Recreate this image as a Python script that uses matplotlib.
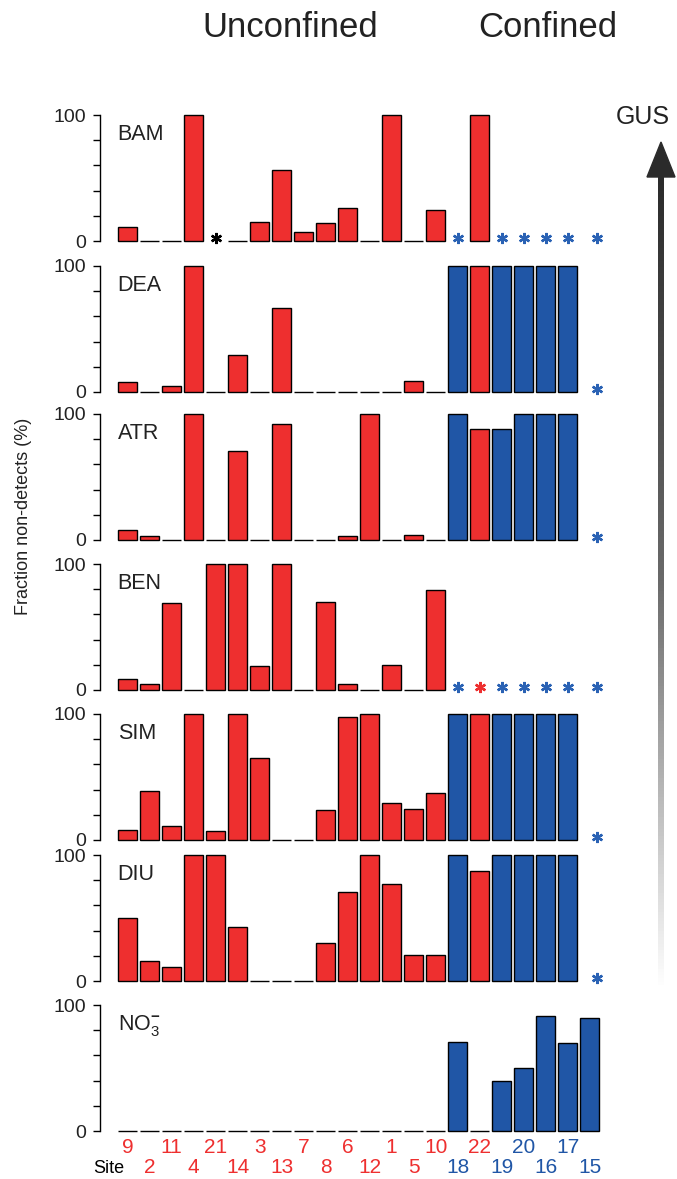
import numpy as np
import matplotlib
matplotlib.use('Agg')
import matplotlib.pyplot as plt
import matplotlib.transforms as mtransforms
from matplotlib.patches import Polygon
from matplotlib.colors import LinearSegmentedColormap

plt.rcParams['font.family'] = ['Liberation Sans', 'DejaVu Sans']
plt.rcParams['mathtext.fontset'] = 'custom'
plt.rcParams['mathtext.rm'] = 'Liberation Sans'
plt.rcParams['mathtext.it'] = 'Liberation Sans'
plt.rcParams['mathtext.bf'] = 'Liberation Sans:bold'

nan = np.nan

# sites in plotting order, U = unconfined, C = confined
sites = ['9', '2', '11', '4', '21', '14', '3', '13', '7', '8', '6',
         '12', '1', '5', '10', '18', '22', '19', '20', '16', '17', '15']
aquifer = ['U'] * 15 + ['C', 'U', 'C', 'C', 'C', 'C', 'C']

# fraction non-detects (%), nan = not analysed (asterisk)
bam = [11, 0, 0, 100, nan, 0, 15, 56, 7, 14, 26, 0, 100, 0, 25,
       nan, 100, nan, nan, nan, nan, nan]
dea = [8, 0, 5, 100, 0, 29, 0, 67, 0, 0, 0, 0, 0, 9, 0,
       100, 100, 100, 100, 100, 100, nan]
atr = [8, 3, 0, 100, 0, 71, 0, 92, 0, 0, 3, 100, 0, 4, 0,
       100, 88, 88, 100, 100, 100, nan]
ben = [9, 5, 69, 0, 100, 100, 19, 100, 0, 70, 5, 0, 20, 0, 79,
       nan, nan, nan, nan, nan, nan, nan]
sim = [8, 39, 11, 100, 7, 100, 65, 0, 0, 24, 98, 100, 29, 25, 37,
       100, 100, 100, 100, 100, 100, nan]
diu = [50, 16, 11, 100, 100, 43, 0, 0, 0, 30, 71, 100, 77, 21, 21,
       100, 87, 100, 100, 100, 100, nan]
no3 = [0, 0, 0, 0, 0, 0, 0, 0, 0, 0, 0, 0, 0, 0, 0,
       71, 0, 40, 50, 91, 70, 90]

panel_names = ['BAM', 'DEA', 'ATR', 'BEN', 'SIM', 'DIU', 'NO$_3^{\\mathbf{-}}$']
panel_values = [bam, dea, atr, ben, sim, diu, no3]
black_stars = [('BAM', '21')]

RED = '#ee2f2f'
BLUE = '#2056a6'
STAR_BLUE = '#2a62b4'
site_colors = [RED if a == 'U' else BLUE for a in aquifer]

W, H = 677, 1179
fig = plt.figure(figsize=(W / 100, H / 100), dpi=100)

def px_axes(left, top, right, bottom):
    return fig.add_axes([left / W, 1 - bottom / H, (right - left) / W, (bottom - top) / H])

tops = [115, 266, 414, 564, 714, 855, 1005]
x = np.arange(len(sites))

for i, (name, vals) in enumerate(zip(panel_names, panel_values)):
    ax = px_axes(100, tops[i], 603, tops[i] + 126)
    vals = np.array(vals, dtype=float)
    ok = ~np.isnan(vals)
    ax.bar(x[ok], vals[ok], width=0.85, color=np.array(site_colors)[ok],
           edgecolor='black', linewidth=1.0, clip_on=False, zorder=3)
    for k in np.where(~ok)[0]:
        c = RED if aquifer[k] == 'U' else STAR_BLUE
        if (name, sites[k]) in black_stars:
            c = 'black'
        xs = x[k] + (0.35 if k == len(sites) - 1 else 0)
        ax.plot(xs, 2, marker=(6, 2, 0), ms=8, mew=1.7, color=c, clip_on=False)
    ax.set_xlim(-1.25, 21.6)
    ax.set_ylim(0, 100)
    for s in ['top', 'right', 'bottom']:
        ax.spines[s].set_visible(False)
    ax.spines['left'].set_linewidth(1.0)
    ax.set_yticks([0, 20, 40, 60, 80, 100])
    ax.set_yticklabels(['0', '', '', '', '', '100'], fontsize=14, color='#222222')
    ax.tick_params(axis='y', length=5, width=1.0, pad=5)
    ax.set_xticks([])
    ax.text(-0.45, 80, name, fontsize=15.5, ha='left', va='baseline', color='#222222')
    ax.patch.set_alpha(0)

    if i == len(panel_names) - 1:
        tr = mtransforms.blended_transform_factory(ax.transData, ax.transAxes)
        for k, s in enumerate(sites):
            yy = -0.175 if k % 2 == 0 else -0.333
            ax.text(x[k], yy, s, transform=tr, ha='center', va='baseline',
                    fontsize=15, color=site_colors[k])

fig.text(93 / W, 1 - 1173 / H, 'Site', fontsize=13, ha='left', va='baseline')
fig.text(23 / W, 1 - 516 / H, 'Fraction non-detects (%)', fontsize=13,
         rotation=90, ha='center', va='center', color='#222222')

fig.text(290 / W, 1 - 37 / H, 'Unconfined', fontsize=25,
         ha='center', va='baseline', color='#222222')
fig.text(548 / W, 1 - 37 / H, 'Confined', fontsize=25,
         ha='center', va='baseline', color='#222222')

# GUS gradient arrow
ov = fig.add_axes([0, 0, 1, 1], zorder=-1)
ov.set_xlim(0, W)
ov.set_ylim(H, 0)
ov.axis('off')
cmap = LinearSegmentedColormap.from_list('g', ['#2b2b2b', '#6a6a6a', '#ffffff'])
grad = np.linspace(0, 1, 256).reshape(-1, 1)
ov.imshow(grad, cmap=cmap, extent=(658, 664, 988, 175), aspect='auto')
ov.add_patch(Polygon([(647, 177), (675, 177), (661, 142)], closed=True,
                     color='#2b2b2b'))
ov.text(643, 117, 'GUS', fontsize=18, ha='center', va='center', color='#222222')

fig.savefig('out.png', dpi=100)
